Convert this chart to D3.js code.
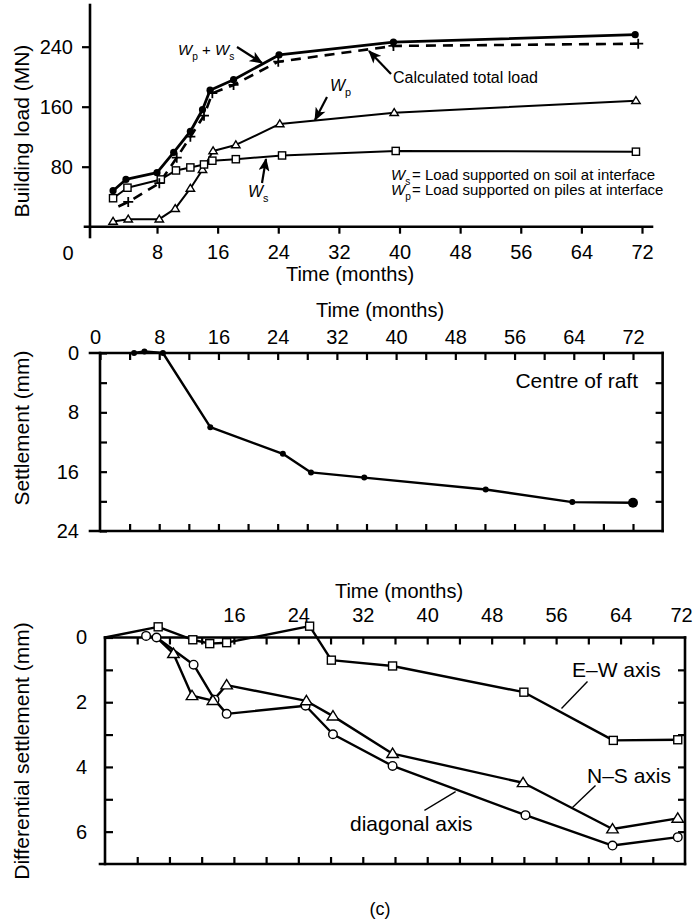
<!DOCTYPE html>
<html><head><meta charset="utf-8">
<script src="https://cdn.jsdelivr.net/npm/d3@7/dist/d3.min.js"></script>
<style>
body{margin:0;background:#fff}
text{font-family:"Liberation Sans",Arial,Helvetica,sans-serif;fill:#000}
</style>
</head><body>
<svg id="c" width="693" height="921"></svg>
<script>
// ---------- DATA ----------
// Panel (a): building load (MN) vs time (months)
const totalT    = [2.2, 3.9, 8.0, 10.2, 12.4, 14.0, 15.0, 18.1, 24.1, 39.2, 71.1];
const totalLoad = [48, 63, 72, 99, 127, 156, 182, 196, 229, 246, 256];
const calcT     = [2.9, 4.2, 8.3, 10.6, 12.4, 14.2, 15.3, 18.1, 24.0, 39.2, 71.5];
const calcLoad  = [27, 33, 58, 92, 120, 148, 178, 189, 220, 241, 244];
const soilT     = [2.2, 4.1, 8.5, 10.5, 12.4, 14.2, 15.3, 18.4, 24.5, 39.5, 71.2];
const soilLoad  = [38, 52, 63, 75, 79, 83, 88, 90, 95, 101, 100];
const pileT     = [2.2, 4.2, 8.3, 10.4, 12.4, 14.0, 15.4, 18.4, 24.2, 39.3, 71.2];
const pileLoad  = [7, 10, 10, 24, 51, 76, 101, 109, 137, 152, 168];
const loadTicks = [80, 160, 240];
const timeLabelTicks = [8, 16, 24, 32, 40, 48, 56, 64, 72];

// Panel (b): settlement at centre of raft (mm)
const raftT      = [4.6, 6.0, 8.5, 14.9, 24.7, 28.5, 35.7, 52.1, 63.8, 72.0];
const raftSettle = [0, -0.2, 0, 10.0, 13.6, 16.1, 16.8, 18.4, 20.1, 20.2];
const settleTicks = [0, 8, 16, 24];

// Panel (c): differential settlement (mm)
const ewT = [0, 6.6, 10.9, 13.0, 15.1, 25.4, 28.1, 35.7, 52.0, 63.1, 71.1];
const ewD = [0, -0.33, 0.07, 0.19, 0.16, -0.35, 0.7, 0.88, 1.69, 3.18, 3.16];
const nsT = [6.4, 8.5, 10.8, 13.4, 15.1, 25.0, 28.3, 35.7, 51.9, 63.0, 71.1];
const nsD = [0, 0.5, 1.8, 1.95, 1.47, 1.96, 2.43, 3.59, 4.49, 5.92, 5.59];
const diagT = [5.1, 6.4, 11.0, 13.6, 15.1, 24.9, 28.3, 35.7, 52.2, 63.0, 71.1];
const diagD = [-0.05, 0, 0.84, 1.92, 2.36, 2.11, 2.99, 3.97, 5.49, 6.43, 6.17];
const diffTicks = [0, 2, 4, 6];
const diffTimeLabels = [16, 24, 32, 40, 48, 56, 64, 72];

// ---------- DRAW ----------
const svg = d3.select("#c");
svg.append("rect").attr("width", 693).attr("height", 921).attr("fill", "#fff");
const defs = svg.append("defs");
defs.append("marker").attr("id", "arr").attr("viewBox", "0 0 12 10")
  .attr("refX", 11).attr("refY", 5).attr("markerWidth", 14).attr("markerHeight", 11)
  .attr("markerUnits", "userSpaceOnUse").attr("orient", "auto")
  .append("path").attr("d", "M0,0 L12,5 L0,10 L3,5 Z").attr("fill", "#000");

function hline(g, x1, y1, x2, y2, w) {
  return g.append("line").attr("x1", x1).attr("y1", y1).attr("x2", x2).attr("y2", y2)
    .attr("stroke", "#000").attr("stroke-width", w || 2.5).attr("stroke-linecap", "square");
}
function zip(a, b) { return a.map((v, i) => [v, b[i]]); }
function path(g, pts, xs, ys, w, dash) {
  const p = g.append("path").datum(pts)
    .attr("d", d3.line().x(d => xs(d[0])).y(d => ys(d[1])))
    .attr("fill", "none").attr("stroke", "#000").attr("stroke-width", w)
    .attr("stroke-linejoin", "round");
  if (dash) p.attr("stroke-dasharray", dash);
  return p;
}
function markers(g, pts, xs, ys, type, size) {
  pts.forEach(d => {
    const x = xs(d[0]), y = ys(d[1]);
    if (type === "dot") {
      g.append("circle").attr("cx", x).attr("cy", y).attr("r", size).attr("fill", "#000");
    } else if (type === "circle") {
      g.append("circle").attr("cx", x).attr("cy", y).attr("r", size)
        .attr("fill", "#fff").attr("stroke", "#000").attr("stroke-width", 1.4);
    } else if (type === "square") {
      g.append("rect").attr("x", x - size).attr("y", y - size).attr("width", 2 * size).attr("height", 2 * size)
        .attr("fill", "#fff").attr("stroke", "#000").attr("stroke-width", 1.4);
    } else if (type === "tri") {
      const s = size;
      g.append("path").attr("d", `M${x},${y - s} L${x + s * 1.05},${y + s * 0.7} L${x - s * 1.05},${y + s * 0.7} Z`)
        .attr("fill", "#fff").attr("stroke", "#000").attr("stroke-width", 1.4);
    } else if (type === "plus") {
      g.append("path").attr("d", `M${x - size},${y} L${x + size},${y} M${x},${y - size} L${x},${y + size}`)
        .attr("stroke", "#000").attr("stroke-width", 1.8);
    }
  });
}
function styleAxis(sel, fs) {
  sel.select(".domain").remove();
  sel.selectAll(".tick line").attr("stroke", "#000").attr("stroke-width", 2.2);
  sel.selectAll(".tick text").attr("font-size", fs).attr("fill", "#000")
    .attr("font-family", '"Liberation Sans",Arial,sans-serif');
  return sel;
}
// italic W with subscript, optionally followed by more text
function wLabel(g, x, y, sub, fs, rest) {
  const t = g.append("text").attr("x", x).attr("y", y).attr("font-size", fs);
  t.append("tspan").attr("font-style", "italic").text("W");
  t.append("tspan").attr("font-size", fs * 0.68).attr("dy", fs * 0.3).text(sub);
  if (rest) t.append("tspan").attr("dy", -fs * 0.3).text(rest);
  return t;
}
function arrow(g, x1, y1, x2, y2, w) {
  g.append("line").attr("x1", x1).attr("y1", y1).attr("x2", x2).attr("y2", y2)
    .attr("stroke", "#000").attr("stroke-width", w || 2.2).attr("marker-end", "url(#arr)");
}

// ===== Panel (a) =====
const g1 = svg.append("g");
const x1 = d3.scaleLinear().domain([0, 72]).range([96.4, 642]);
const y1 = d3.scaleLinear().domain([0, 240]).range([226.7, 46.7]);

hline(g1, 85, 226.7, 652, 226.7, 2.6);
hline(g1, 90, 5, 90, 237, 2.6);
const ax1 = g1.append("g").attr("transform", "translate(0,226.7)")
  .call(d3.axisBottom(x1).tickValues(timeLabelTicks).tickSize(7).tickSizeOuter(0));
styleAxis(ax1, 20);
ax1.selectAll(".tick text").attr("y", 32.8).attr("dy", null);
g1.append("text").attr("x", 68).attr("y", 259.5).attr("text-anchor", "middle").attr("font-size", 20).text("0");
const ay1 = g1.append("g").attr("transform", "translate(90,0)")
  .call(d3.axisLeft(y1).tickValues(loadTicks).tickSize(8).tickPadding(9).tickSizeOuter(0));
styleAxis(ay1, 20);
g1.append("text").attr("x", 350).attr("y", 281).attr("text-anchor", "middle").attr("font-size", 20).text("Time (months)");
g1.append("text").attr("transform", "translate(29,131) rotate(-90)").attr("text-anchor", "middle")
  .attr("font-size", 21).text("Building load (MN)");

path(g1, zip(pileT, pileLoad), x1, y1, 2);
path(g1, zip(soilT, soilLoad), x1, y1, 2);
path(g1, zip(calcT, calcLoad), x1, y1, 2.6, "10,7");
path(g1, zip(totalT, totalLoad), x1, y1, 2.8);
markers(g1, zip(pileT, pileLoad), x1, y1, "tri", 4);
markers(g1, zip(soilT, soilLoad), x1, y1, "square", 3.6);
markers(g1, zip(calcT, calcLoad).slice(1), x1, y1, "plus", 5);
markers(g1, zip(totalT, totalLoad), x1, y1, "dot", 3.6);

// "Wp + Ws"
{
  const fs = 15;
  const t = g1.append("text").attr("x", 178).attr("y", 55).attr("font-size", fs);
  t.append("tspan").attr("font-style", "italic").text("W");
  t.append("tspan").attr("font-size", fs * 0.68).attr("dy", fs * 0.3).text("p");
  t.append("tspan").attr("dy", -fs * 0.3).text(" + ");
  t.append("tspan").attr("font-style", "italic").text("W");
  t.append("tspan").attr("font-size", fs * 0.68).attr("dy", fs * 0.3).text("s");
}
arrow(g1, 237, 47, 262, 63);
wLabel(g1, 330, 91, "p", 16);
arrow(g1, 327, 97, 315, 120);
wLabel(g1, 248, 197, "s", 16);
arrow(g1, 262, 183, 266, 159);
g1.append("text").attr("x", 393).attr("y", 83).attr("font-size", 16).text("Calculated total load");
arrow(g1, 391, 74, 369, 51);
wLabel(g1, 391, 180, "s", 15);
g1.append("text").attr("x", 412).attr("y", 180).attr("font-size", 15).text("= Load supported on soil at interface");
wLabel(g1, 391, 195, "p", 15);
g1.append("text").attr("x", 412).attr("y", 195).attr("font-size", 15).text("= Load supported on piles at interface");

// ===== Panel (b) =====
const g2 = svg.append("g");
const x2 = d3.scaleLinear().domain([0, 72]).range([100, 633]);
const y2 = d3.scaleLinear().domain([0, 24]).range([353, 531]);
const right2 = x2(76);
hline(g2, 90, 353, right2, 353, 2.6);
hline(g2, 90, 531, right2, 531, 2.6);
hline(g2, 100, 353, 100, 531, 2.6);
hline(g2, right2, 353, right2, 531, 2.6);
const at2 = g2.append("g").attr("transform", "translate(0,353)")
  .call(d3.axisTop(x2).tickValues(d3.range(0, 73, 4)).tickSize(-7).tickPadding(9).tickSizeOuter(0)
    .tickFormat(d => d % 8 === 0 ? d : ""));
styleAxis(at2, 20);
at2.selectAll(".tick").filter(d => d === 0).select("text").attr("x", -5);
const ab2 = g2.append("g").attr("transform", "translate(0,531)")
  .call(d3.axisBottom(x2).tickValues(d3.range(4, 73, 4)).tickSize(-7).tickSizeOuter(0).tickFormat(""));
styleAxis(ab2, 20);
const al2 = g2.append("g").attr("transform", "translate(100,0)")
  .call(d3.axisLeft(y2).tickValues(d3.range(0, 25, 4)).tickSize(-7).tickPadding(21).tickSizeOuter(0)
    .tickFormat(d => settleTicks.includes(d) ? d : ""));
styleAxis(al2, 20);
const ar2 = g2.append("g").attr("transform", `translate(${right2},0)`)
  .call(d3.axisRight(y2).tickValues(d3.range(4, 21, 4)).tickSize(-7).tickSizeOuter(0).tickFormat(""));
styleAxis(ar2, 20);
g2.append("text").attr("x", 380).attr("y", 317).attr("text-anchor", "middle").attr("font-size", 20).text("Time (months)");
g2.append("text").attr("transform", "translate(29,428) rotate(-90)").attr("text-anchor", "middle")
  .attr("font-size", 21).text("Settlement (mm)");
g2.append("text").attr("x", 638).attr("y", 388).attr("text-anchor", "end").attr("font-size", 21).text("Centre of raft");
path(g2, zip(raftT, raftSettle), x2, y2, 2.4);
const raftPts = zip(raftT, raftSettle);
markers(g2, raftPts.slice(0, -1), x2, y2, "dot", 3);
markers(g2, raftPts.slice(-1), x2, y2, "dot", 5);

// ===== Panel (c) =====
const g3 = svg.append("g");
const x3 = d3.scaleLinear().domain([0, 72]).range([105, 685]);
const y3 = d3.scaleLinear().domain([0, 7]).range([637.5, 864]);
hline(g3, 105, 637.5, 685, 637.5, 2.6);
hline(g3, 100, 864, 685, 864, 2.6);
hline(g3, 105, 637.5, 105, 864, 2.6);
hline(g3, 685, 637.5, 685, 864, 2.6);
const at3 = g3.append("g").attr("transform", "translate(0,637.5)")
  .call(d3.axisTop(x3).tickValues(d3.range(4, 73, 4)).tickSize(-7).tickPadding(16).tickSizeOuter(0)
    .tickFormat(d => diffTimeLabels.includes(d) ? d : ""));
styleAxis(at3, 20);
const t72 = at3.selectAll(".tick").filter(d => d === 72);
t72.select("line").remove();
t72.select("text").attr("x", -4);
const ab3 = g3.append("g").attr("transform", "translate(0,864)")
  .call(d3.axisBottom(x3).tickValues(d3.range(4, 69, 4)).tickSize(-7).tickSizeOuter(0).tickFormat(""));
styleAxis(ab3, 20);
const al3 = g3.append("g").attr("transform", "translate(105,0)")
  .call(d3.axisLeft(y3).tickValues(d3.range(0, 7, 1)).tickSize(-8).tickPadding(18).tickSizeOuter(0)
    .tickFormat(d => diffTicks.includes(d) ? d : ""));
styleAxis(al3, 20);
const ar3 = g3.append("g").attr("transform", "translate(685,0)")
  .call(d3.axisRight(y3).tickValues(d3.range(1, 7, 1)).tickSize(-7).tickSizeOuter(0).tickFormat(""));
styleAxis(ar3, 20);
g3.append("text").attr("x", 399).attr("y", 598).attr("text-anchor", "middle").attr("font-size", 20).text("Time (months)");
g3.append("text").attr("transform", "translate(29,751) rotate(-90)").attr("text-anchor", "middle")
  .attr("font-size", 21).text("Differential settlement (mm)");

path(g3, zip(ewT, ewD), x3, y3, 2.4);
path(g3, zip(nsT, nsD), x3, y3, 2.4);
path(g3, zip(diagT, diagD), x3, y3, 2.4);
markers(g3, zip(ewT, ewD).slice(1), x3, y3, "square", 4);
markers(g3, zip(diagT, diagD), x3, y3, "circle", 4.3);
markers(g3, zip(nsT, nsD).slice(1), x3, y3, "tri", 5.5);

g3.append("text").attr("x", 572).attr("y", 677).attr("font-size", 21).text("E\u2013W axis");
hline(g3, 587, 682, 562, 708, 1.4);
g3.append("text").attr("x", 587).attr("y", 783).attr("font-size", 21).text("N\u2013S axis");
hline(g3, 595, 786, 573, 807, 1.4);
g3.append("text").attr("x", 350).attr("y", 831).attr("font-size", 21).text("diagonal axis");
hline(g3, 425, 810, 455, 792, 1.4);
svg.append("text").attr("x", 380).attr("y", 915).attr("text-anchor", "middle").attr("font-size", 18).text("(c)");
</script>
</body></html>
